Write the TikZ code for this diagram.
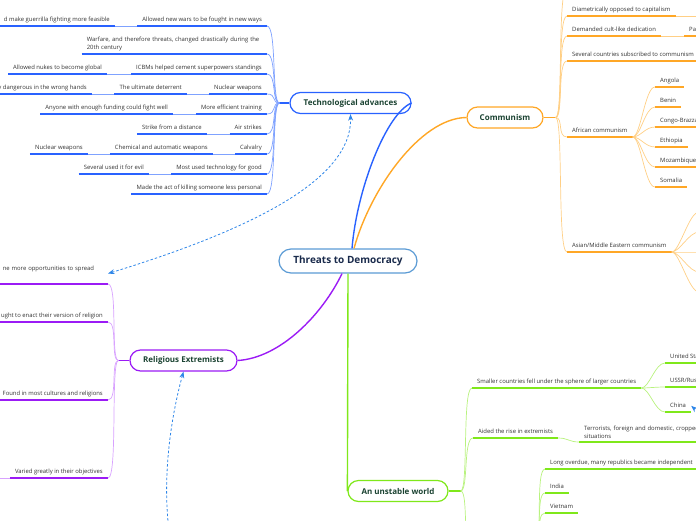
\documentclass[tikz,border=0pt]{standalone}
\usepackage{fontspec}
\setmainfont{Open Sans}
\usetikzlibrary{arrows.meta}

\definecolor{rootline}{HTML}{5B9BD5}
\definecolor{rootink}{HTML}{1A2B4C}
\definecolor{topicink}{HTML}{1B4332}
\definecolor{subink}{HTML}{333333}
\definecolor{techblue}{HTML}{2962FF}
\definecolor{techsoft}{HTML}{7FA2FF}
\definecolor{commorange}{HTML}{FFA726}
\definecolor{commsoft}{HTML}{FFCF85}
\definecolor{relpurple}{HTML}{9B1BF5}
\definecolor{relsoft}{HTML}{D8A2FF}
\definecolor{worldgreen}{HTML}{7FE81A}
\definecolor{worldsoft}{HTML}{B8F27E}
\definecolor{linkblue}{HTML}{2E86E8}

\begin{document}
\begin{tikzpicture}[
    x=1pt, y=-1pt, % pixel grid, y downwards
    >=Stealth,
    root/.style={draw=rootline, line width=1.2pt, rounded corners=12pt, fill=white,
      minimum width=138pt, minimum height=24pt, text=rootink,
      font=\fontsize{10}{12}\selectfont\bfseries},
    topic/.style={line width=1.2pt, rounded corners=10.5pt, fill=white,
      minimum height=21pt, text=topicink, font=\fontsize{8}{10}\selectfont\bfseries},
    sub/.style={text=subink, inner xsep=5pt, inner ysep=3pt, text height=4.5pt,
      text depth=1.5pt, font=\fontsize{5.9}{7.5}\selectfont},
    subpara/.style={text=subink, inner xsep=5pt, inner ysep=3pt, align=left,
      font=\fontsize{5.9}{7.8}\selectfont},
    uline/.style={line width=1.6pt},
    twig/.style={line width=0.7pt},
    bough/.style={line width=1.4pt},
    dashlink/.style={linkblue, line width=0.8pt, dash pattern=on 2.5pt off 2pt},
  ]

  \useasboundingbox (0,0) rectangle (696,520);
  \clip (0,0) rectangle (696,520);

  % main topics
  \node[root] (root) at (348,261) {Threats to Democracy};
  \node[topic, draw=techblue, minimum width=121pt] (tech) at (350.5,103) {Technological advances};
  \node[topic, draw=commorange, minimum width=76pt] (comm) at (505,117.5) {Communism};
  \node[topic, draw=relpurple, minimum width=107pt] (rel) at (183.5,360.5) {Religious Extremists};
  \node[topic, draw=worldgreen, minimum width=100pt] (world) at (398,491) {An unstable world};

  % branches from the root
  \draw[bough, techblue] ([xshift=4pt]root.north) .. controls +(5,-60) and +(-25,10) .. (tech.east);
  \draw[bough, commorange] ([xshift=6pt]root.north) .. controls (370,190) and (420,118) .. (comm.west);
  \draw[bough, relpurple] ([xshift=-6pt]root.south) .. controls (322,315) and (280,358) .. (rel.east);
  \draw[bough, worldgreen] (root.south) -- (world.west);

  % Technological advances
  \node[sub, anchor=south east] (tnew) at (267,26) {Allowed new wars to be fought in new ways};
  \node[sub, anchor=south east] (tguer) at (115,26) {d make guerrilla fighting more feasible};
  \node[subpara, text width=175pt, anchor=south east] (twar) at (267,54)
    {Warfare, and therefore threats, changed drastically during the\\20th century};
  \node[sub, anchor=south east] (ticbm) at (267,74) {ICBMs helped cement superpowers standings};
  \node[sub, anchor=south east] (tglob) at (107,74) {Allowed nukes to become global};
  \node[sub, anchor=south east] (tnuke) at (267,94) {Nuclear weapons};
  \node[sub, anchor=south east] (tdeter) at (187,94) {The ultimate deterrent};
  \node[sub, anchor=south east] (tdang) at (92,94) {y dangerous in the wrong hands};
  \node[sub, anchor=south east] (ttrain) at (267,114) {More efficient training};
  \node[sub, anchor=south east] (tfund) at (173,114) {Anyone with enough funding could fight well};
  \node[sub, anchor=south east] (tair) at (267,134) {Air strikes};
  \node[sub, anchor=south east] (tdist) at (207,134) {Strike from a distance};
  \node[sub, anchor=south east] (tcav) at (267,154) {Calvalry};
  \node[sub, anchor=south east] (tchem) at (213,154) {Chemical and automatic weapons};
  \node[sub, anchor=south east] (tnuketwo) at (88,154) {Nuclear weapons};
  \node[sub, anchor=south east] (tgood) at (267,174) {Most used technology for good};
  \node[sub, anchor=south east] (tevil) at (149,174) {Several used it for evil};
  \node[sub, anchor=south east] (tpers) at (267,194) {Made the act of killing someone less personal};

  \foreach \n in {tnew,tguer,twar,ticbm,tglob,tnuke,tdeter,tdang,ttrain,tfund,
                  tair,tdist,tcav,tchem,tnuketwo,tgood,tevil,tpers}
    \draw[uline, techblue] (\n.south west) -- (\n.south east);
  \foreach \a/\b in {tnew/tguer, ticbm/tglob, tnuke/tdeter, tdeter/tdang, ttrain/tfund,
                     tair/tdist, tcav/tchem, tchem/tnuketwo, tgood/tevil}
    \draw[twig, techsoft] (\a.south west) -- (\b.south east);
  \draw[bough, techblue] (tech.west) -- ++(-10,0) coordinate (thub);
  \foreach \n in {tnew,twar,ticbm,tnuke,ttrain,tair,tcav,tgood,tpers}
    \draw[twig, techsoft] (thub) .. controls +(-8,0) and +(10,0) .. (\n.south east);

  % Communism
  \coordinate (ctop) at (567,-12);
  \node[sub, anchor=south west] (cdiam) at (567,16) {Diametrically opposed to capitalism};
  \node[sub, anchor=south west] (ccult) at (567,36) {Demanded cult-like dedication};
  \node[sub, anchor=south west] (cparty) at (684,36) {Party};
  \node[sub, anchor=south west] (csev) at (567,61) {Several countries subscribed to communism};
  \node[sub, anchor=south west] (cafr) at (567,137) {African communism};
  \node[sub, anchor=south west] (casia) at (567,252) {Asian/Middle Eastern communism};
  \node[sub, anchor=south west] (cang) at (655,87) {Angola};
  \node[sub, anchor=south west] (cben) at (655,107) {Benin};
  \node[sub, anchor=south west] (ccon) at (655,127) {Congo-Brazzaville};
  \node[sub, anchor=south west] (ceth) at (655,147) {Ethiopia};
  \node[sub, anchor=south west] (cmoz) at (655,167) {Mozambique};
  \node[sub, anchor=south west] (csom) at (655,187) {Somalia};

  \foreach \n in {cdiam,ccult,cparty,csev,cafr,casia,cang,cben,ccon,ceth,cmoz,csom}
    \draw[uline, commorange] (\n.south west) -- (\n.south east);
  \draw[twig, commsoft] (cdiam.south east) -- ++(30,0);
  \draw[twig, commsoft] (ccult.south east) -- (cparty.south west);
  \draw[bough, commorange] (comm.east) -- ++(12,0) coordinate (chub);
  \foreach \n in {ctop, cdiam.south west, ccult.south west, csev.south west,
                  cafr.south west, casia.south west}
    \draw[twig, commsoft] (chub) .. controls +(8,0) and +(-10,0) .. (\n);
  \foreach \n in {cang,cben,ccon,ceth,cmoz,csom}
    \draw[twig, commsoft] (cafr.south east) .. controls +(8,0) and +(-10,0) .. (\n.south west);
  \foreach \y in {212,232,252,272,292}
    \draw[twig, commsoft] (casia.south east) .. controls +(8,0) and +(-10,0) .. (699,\y);

  % Religious Extremists
  \node[sub, anchor=south east, text width=100pt, align=left, text depth=10pt]
    (rspread) at (108,284) {ne more opportunities to spread};
  \node[sub, anchor=south east] (renact) at (108,322) {ught to enact their version of religion};
  \node[sub, anchor=south east] (rfound) at (108,400) {Found in most cultures and religions};
  \node[sub, anchor=south east] (rvary) at (108,478) {Varied greatly in their objectives};

  \foreach \n in {rspread,renact,rfound,rvary}
    \draw[uline, relpurple] (\n.south west) -- (\n.south east);
  \draw[twig, relsoft] (rvary.south west) -- ++(-12,0);
  \draw[bough, relpurple] (rel.west) -- ++(-11,0) coordinate (rhub);
  \foreach \n in {rspread,renact,rfound,rvary}
    \draw[twig, relsoft] (rhub) .. controls +(-8,0) and +(10,0) .. (\n.south east);

  % An unstable world
  \node[sub, anchor=south west] (wsmall) at (472,388) {Smaller countries fell under the sphere of larger countries};
  \node[sub, anchor=south west] (wus) at (665,363) {United States};
  \node[sub, anchor=south west] (wussr) at (665,387) {USSR/Russia};
  \node[sub, anchor=south west] (wchina) at (665,412) {China};
  \node[sub, anchor=south west] (waided) at (473,438) {Aided the rise in extremists};
  \node[subpara, text width=200pt, anchor=south west] (wterr) at (579,442)
    {Terrorists, foreign and domestic, cropped up in unstable\\situations};
  \coordinate (wlow) at (472,548);
  \coordinate (windep) at (535,548);
  \node[sub, anchor=south west] (wlong) at (545,469) {Long overdue, many republics became independent};
  \node[sub, anchor=south west] (windia) at (545,493) {India};
  \node[sub, anchor=south west] (wviet) at (545,513) {Vietnam};

  \foreach \n in {wsmall,wus,wussr,wchina,waided,wterr,wlong,windia,wviet}
    \draw[uline, worldgreen] (\n.south west) -- (\n.south east);
  \draw[bough, worldgreen] (world.east) -- ++(12,0) coordinate (whub);
  \foreach \n in {wsmall.south west, waided.south west, wlow}
    \draw[twig, worldsoft] (whub) .. controls +(8,0) and +(-10,0) .. (\n);
  \foreach \n in {wus,wussr,wchina}
    \draw[twig, worldsoft] (wsmall.south east) .. controls +(8,0) and +(-10,0) .. (\n.south west);
  \draw[twig, worldsoft] (waided.south east) .. controls +(10,0) and +(-10,0) .. (wterr.south west);
  \foreach \n in {wlong,windia,wviet}
    \draw[twig, worldsoft] (windep) .. controls +(8,0) and +(-10,0) .. (\n.south west);

  % relations
  \coordinate (relfar) at (172,548);
  \coordinate (chinafar) at (712,424);
  \draw[dashlink, <->] (rspread.east) .. controls (250,230) and (352,180) .. (tech.south);
  \draw[dashlink, <-] (rel.south) .. controls (170,420) and (160,490) .. (relfar);
  \draw[dashlink, ->] (chinafar) -- (wchina.east);
\end{tikzpicture}
\end{document}
